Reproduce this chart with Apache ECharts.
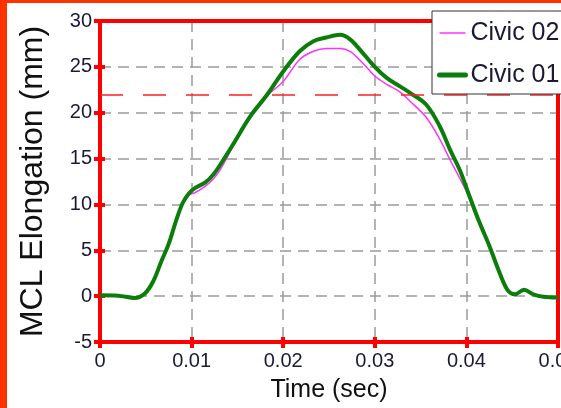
<!DOCTYPE html>
<html>
<head>
<meta charset="utf-8">
<script src="https://cdn.jsdelivr.net/npm/echarts@6/dist/echarts.min.js"></script>
<style>
html,body{margin:0;padding:0;background:#fff;}
#chart{width:561px;height:408px;}
</style>
</head>
<body>
<div id="chart"></div>
<script>
// Time axis (seconds)
const timeSec = [0, 0.002, 0.0038, 0.0049, 0.0058, 0.0067, 0.0075, 0.0083, 0.009, 0.0097,
  0.0104, 0.0115, 0.0124, 0.0133, 0.0145, 0.0164, 0.0182, 0.02, 0.0218, 0.0233,
  0.0247, 0.0262, 0.0273, 0.0287, 0.03, 0.0313, 0.0327, 0.0338, 0.0356, 0.0371,
  0.0382, 0.0393, 0.0403, 0.0414, 0.0425, 0.0436, 0.0445, 0.0453, 0.0463, 0.0473,
  0.0484, 0.05];
// MCL elongation (mm)
const civic01 = [0.1, 0.05, -0.2, 0.3, 1.6, 3.8, 5.7, 8.2, 10.1, 11.2,
  11.8, 12.4, 13.3, 14.6, 16.5, 19.6, 21.9, 24.5, 26.7, 27.8,
  28.2, 28.5, 28.0, 26.5, 25.0, 23.8, 22.9, 22.2, 20.9, 18.5,
  16.0, 13.7, 11.0, 8.1, 5.5, 2.6, 0.65, 0.2, 0.7, 0.2,
  -0.07, -0.15];
const civic02 = [0.1, 0.05, -0.2, 0.3, 1.6, 3.8, 5.7, 8.2, 10.0, 11.0,
  11.3, 12.0, 12.8, 14.1, 16.3, 19.5, 21.8, 23.4, 25.8, 26.7,
  27.0, 27.0, 26.7, 25.4, 24.0, 23.1, 22.3, 21.3, 19.5, 17.1,
  14.9, 12.8, 10.8, 7.9, 5.4, 2.6, 0.65, 0.2, 0.7, 0.2,
  -0.07, -0.15];
const seriesNames = ['Civic 02', 'Civic 01'];
const thresholdMm = 22;
const xMin = 0, xMax = 0.05, xStep = 0.01;
const yMin = -5, yMax = 30, yStep = 5;

const FONT = '"Liberation Sans", Arial, sans-serif';
const LABEL_COLOR = '#1a1a38';
const RED = '#ff0000';
const MAGENTA = '#ff33ff';
const GREEN = '#0b7d0b';

const chart = echarts.init(document.getElementById('chart'), null, {renderer: 'canvas'});

function xAx(extra) {
  return Object.assign({
    type: 'value', min: xMin, max: xMax, interval: xStep, gridIndex: 0,
    axisLine: {show: false, onZero: false}, axisTick: {show: false}, axisLabel: {show: false},
    splitLine: {show: false}
  }, extra);
}
function yAx(extra) {
  return Object.assign({
    type: 'value', min: yMin, max: yMax, interval: yStep, gridIndex: 0,
    axisLine: {show: false, onZero: false}, axisTick: {show: false}, axisLabel: {show: false},
    splitLine: {show: false}
  }, extra);
}

const option = {
  backgroundColor: '#ffffff',
  animation: false,
  textStyle: {fontFamily: FONT},
  graphic: [
    {type: 'rect', left: 0, top: 0, shape: {width: 561, height: 3}, style: {fill: '#ff3300'}, z: 100},
    {type: 'rect', left: 0, top: 0, shape: {width: 7, height: 408}, style: {fill: '#ff3300'}, z: 100}
  ],
  grid: {left: 100, right: 3, top: 21, bottom: 66, containLabel: false, outerBoundsMode: 'none'},
  legend: {
    data: [
      {name: seriesNames[0], lineStyle: {width: 1.5, color: MAGENTA}},
      {name: seriesNames[1], lineStyle: {width: 5, color: GREEN, cap: 'round'}}
    ],
    orient: 'vertical',
    left: 432, top: 11,
    padding: [7, 30, 4, 5],
    itemGap: 12,
    itemWidth: 26, itemHeight: 14,
    backgroundColor: '#ffffff',
    borderColor: '#333333', borderWidth: 1,
    itemStyle: {color: 'rgba(0,0,0,0)', borderWidth: 0, opacity: 0},
    textStyle: {fontSize: 25, color: LABEL_COLOR, fontFamily: FONT, lineHeight: 30},
    z: 50
  },
  xAxis: [
    xAx({
      position: 'bottom',
      name: 'Time (sec)', nameLocation: 'middle', nameGap: 36,
      nameTextStyle: {fontSize: 25, color: '#111111', fontFamily: FONT},
      axisLine: {show: true, onZero: false, lineStyle: {color: RED, width: 4}},
      axisTick: {show: true, inside: false, length: 6, lineStyle: {color: RED, width: 4}},
      axisLabel: {show: true, fontSize: 20, color: LABEL_COLOR, fontFamily: FONT, margin: 9,
        formatter: v => (v === 0 ? '0' : v.toFixed(2))},
      splitLine: {show: true, showMinLine: false, showMaxLine: false, lineStyle: {color: '#9a9a9a', width: 1.5, type: [11, 7]}}
    }),
    xAx({position: 'bottom',
      axisTick: {show: true, inside: true, length: 5, lineStyle: {color: RED, width: 4}}}),
    xAx({position: 'top',
      axisLine: {show: true, onZero: false, lineStyle: {color: RED, width: 4}}})
  ],
  yAxis: [
    yAx({
      position: 'left',
      name: 'MCL Elongation (mm)', nameLocation: 'middle', nameGap: 51,
      nameTextStyle: {fontSize: 32, color: '#111111', fontFamily: FONT},
      axisLine: {show: true, onZero: false, lineStyle: {color: RED, width: 4}},
      axisTick: {show: true, inside: false, length: 6, lineStyle: {color: RED, width: 4}},
      axisLabel: {show: true, fontSize: 20, color: LABEL_COLOR, fontFamily: FONT, margin: 8},
      splitLine: {show: true, showMinLine: false, showMaxLine: false, lineStyle: {color: '#9a9a9a', width: 1.5, type: [11, 7]}}
    }),
    yAx({position: 'left',
      axisTick: {show: true, inside: true, length: 5, lineStyle: {color: RED, width: 4}}}),
    yAx({position: 'right',
      axisLine: {show: true, onZero: false, lineStyle: {color: RED, width: 4}}})
  ],
  series: [
    {
      name: seriesNames[0], type: 'line', xAxisIndex: 0, yAxisIndex: 0,
      data: timeSec.map((t, i) => [t, civic02[i]]),
      symbol: 'none', showSymbol: false,
      smooth: 0.35,
      lineStyle: {color: MAGENTA, width: 1.5},
      itemStyle: {color: MAGENTA},
      markLine: {
        silent: true, symbol: 'none', label: {show: false},
        lineStyle: {color: '#ff2020', width: 1.5, type: [23, 20]},
        data: [{yAxis: thresholdMm}]
      },
      z: 3
    },
    {
      name: seriesNames[1], type: 'line', xAxisIndex: 0, yAxisIndex: 0,
      data: timeSec.map((t, i) => [t, civic01[i]]),
      symbol: 'none', showSymbol: false,
      smooth: 0.35,
      lineStyle: {color: GREEN, width: 4},
      itemStyle: {color: GREEN},
      z: 4
    }
  ]
};
chart.setOption(option);
</script>
</body>
</html>
